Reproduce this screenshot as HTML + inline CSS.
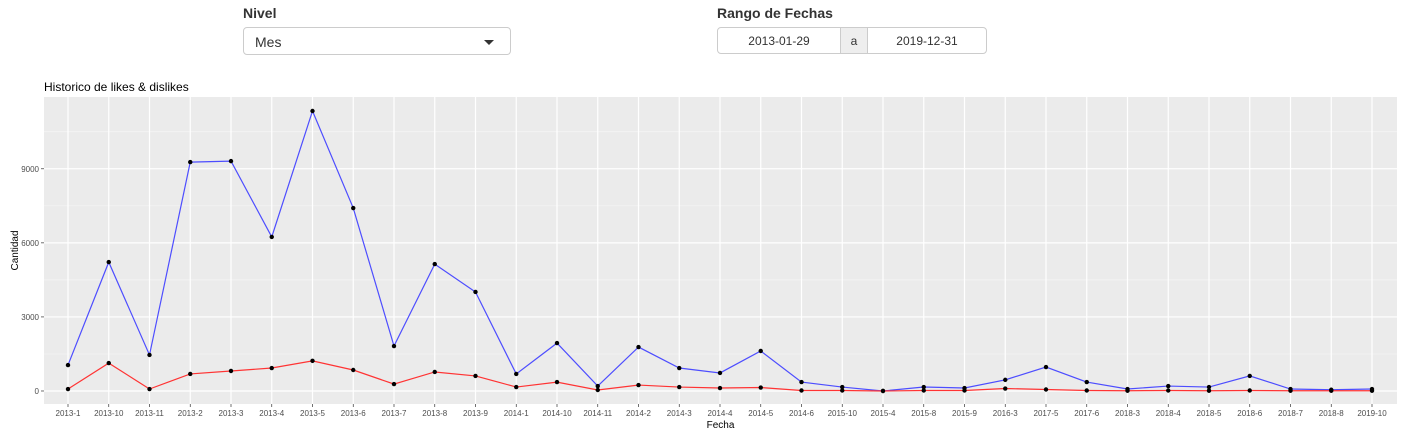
<!DOCTYPE html>
<html><head><meta charset="utf-8"><style>
body{margin:0;width:1403px;height:432px;background:#fff;font-family:"Liberation Sans",Arial,sans-serif;overflow:hidden;position:relative}
.lbl{position:absolute;font-weight:bold;font-size:14px;color:#333}
.sel{position:absolute;left:243px;top:27px;width:268px;height:28px;border:1px solid #ccc;border-radius:4px;font-size:14px;color:#333;box-sizing:border-box;padding:6px 11px}
.caret{position:absolute;right:16px;top:12px;width:0;height:0;border-left:5px solid transparent;border-right:5px solid transparent;border-top:5px solid #333}
.dr{position:absolute;left:717px;top:27px;width:270px;height:27px;border:1px solid #ccc;border-radius:4px;box-sizing:border-box;display:flex;font-size:12px;color:#333}
.dr div{display:flex;align-items:center;justify-content:center}
</style></head><body>
<div class="lbl" style="left:243px;top:5px">Nivel</div>
<div class="sel">Mes<span class="caret"></span></div>
<div class="lbl" style="left:717px;top:5px">Rango de Fechas</div>
<div class="dr">
<div style="width:122px">2013-01-29</div>
<div style="width:26px;background:#eee;border-left:1px solid #ccc;border-right:1px solid #ccc">a</div>
<div style="flex:1">2019-12-31</div>
</div>
<svg id="chart" width="1403" height="432" style="position:absolute;left:0;top:0;pointer-events:none"></svg>
<script>
const categories=["2013-1","2013-10","2013-11","2013-2","2013-3","2013-4","2013-5","2013-6","2013-7","2013-8","2013-9","2014-1","2014-10","2014-11","2014-2","2014-3","2014-4","2014-5","2014-6","2015-10","2015-4","2015-8","2015-9","2016-3","2017-5","2017-6","2018-3","2018-4","2018-5","2018-6","2018-7","2018-8","2019-10"];
const likes=[1050,5220,1460,9270,9310,6240,11340,7410,1820,5140,4010,690,1940,200,1780,930,730,1620,360,160,0,160,120,450,970,360,80,200,160,610,80,50,80];
const dislikes=[80,1130,80,690,810,930,1220,850,280,770,610,160,360,40,240,160,120,140,20,20,0,20,20,100,60,20,10,20,10,20,10,10,10];
const yTicks=[0,3000,6000,9000];
const yMinor=[1500,4500,7500,10500];
const NS="http://www.w3.org/2000/svg";
const svg=document.getElementById('chart');
const L=44,R=1397,T=97,B=404;
const yMin=-527,yMax=11907;
const x=i=>68+i*(1372-68)/(categories.length-1);
const y=v=>B-(v-yMin)/(yMax-yMin)*(B-T);
function el(t,a,p){const e=document.createElementNS(NS,t);for(const k in a)e.setAttribute(k,a[k]);(p||svg).appendChild(e);return e;}
const panel=el('rect',{x:L,y:T,width:R-L,height:B-T,fill:'#ebebeb'});


yMinor.forEach(v=>{const g=el('line',{x1:L,x2:R,y1:y(v),y2:y(v),stroke:'#f5f5f5','stroke-width':0.7});

});
yTicks.forEach(v=>{const g=el('line',{x1:L,x2:R,y1:y(v),y2:y(v),stroke:'#fff','stroke-width':1.2});


const t=el('text',{x:L-5,y:y(v)+3,'text-anchor':'end','font-size':8,fill:'#4d4d4d'});t.textContent=v;


el('line',{x1:L-3,x2:L,y1:y(v),y2:y(v),stroke:'#333','stroke-width':0.7});});
categories.forEach((c,i)=>{const g=el('line',{x1:x(i),x2:x(i),y1:T,y2:B,stroke:'#fff','stroke-width':1.2});


el('line',{x1:x(i),x2:x(i),y1:B,y2:B+3,stroke:'#333','stroke-width':0.7});
const t=el('text',{x:x(i),y:B+12,'text-anchor':'middle','font-size':8,fill:'#4d4d4d'});t.textContent=c;

});
function series(vals,col,name){
const p=el('polyline',{points:vals.map((v,i)=>x(i)+','+y(v)).join(' '),fill:'none',stroke:col,'stroke-width':1.2});


vals.forEach((v,i)=>{const c=el('circle',{cx:x(i),cy:y(v),r:2.2,fill:'#000'});

});}
series(likes,'#4d4dff','likes');
series(dislikes,'#ff3333','dislikes');
const ti=el('text',{x:44,y:91,'font-size':12,fill:'#000'});ti.textContent='Historico de likes & dislikes';


const xt=el('text',{x:(L+R)/2,y:428,'text-anchor':'middle','font-size':10,fill:'#000'});xt.textContent='Fecha';


const yt=el('text',{x:0,y:0,'text-anchor':'middle','font-size':10,fill:'#000',transform:'translate(18,'+((T+B)/2)+') rotate(-90)'});yt.textContent='Cantidad';


</script>
</body></html>
